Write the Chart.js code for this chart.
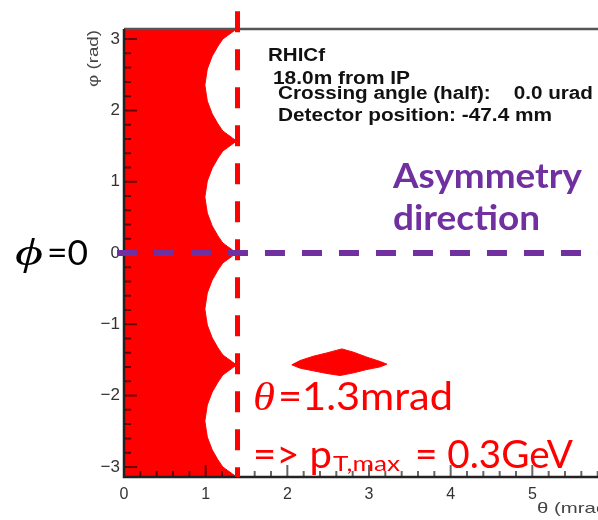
<!DOCTYPE html>
<html><head><meta charset="utf-8">
<script src="https://cdn.jsdelivr.net/npm/chart.js@4/dist/chart.umd.min.js"></script>
<style>html,body{margin:0;padding:0;background:#fff;overflow:hidden;width:598px;height:520px}canvas{display:block}</style>
</head><body><canvas id="c" width="640" height="520" style="width:640px;height:520px"></canvas>
<script>
// ---- data ----
const xTicks = [0, 1, 2, 3, 4, 5];
const xTickLabels = ['0', '1', '2', '3', '4', '5'];
const yTicks = [-3, -2, -1, 0, 1, 2, 3];
const yTickLabels = ['\u22123', '\u22122', '\u22121', '0', '1', '2', '3'];

// red acceptance region: outline (theta in mrad, phi in rad)
const regionTheta = [0,
  1.38, 1.33, 1.27, 1.21, 1.15, 1.08, 1.02, 0.99, 1.02, 1.08, 1.15, 1.21, 1.27, 1.33,
  1.38, 1.33, 1.27, 1.21, 1.15, 1.08, 1.02, 0.99, 1.02, 1.08, 1.15, 1.21, 1.27, 1.33,
  1.38, 1.33, 1.27, 1.21, 1.15, 1.08, 1.02, 0.99, 1.02, 1.08, 1.15, 1.21, 1.27, 1.33,
  1.38, 1.33, 1.27, 1.21, 1.15, 1.08, 1.02, 0.99, 1.02, 1.08, 1.15, 1.21, 1.27, 1.33,
  1.38, 0];
const regionPhi = [3.1416,
  3.1416, 3.101, 3.051, 3.001, 2.901, 2.761, 2.581, 2.356, 2.131, 1.951, 1.811, 1.711, 1.661, 1.611,
  1.571, 1.530, 1.480, 1.430, 1.330, 1.190, 1.010, 0.785, 0.560, 0.380, 0.240, 0.140, 0.090, 0.040,
  0.000, -0.040, -0.090, -0.140, -0.240, -0.380, -0.560, -0.785, -1.010, -1.190, -1.330, -1.430, -1.480, -1.530,
  -1.571, -1.611, -1.661, -1.711, -1.811, -1.951, -2.131, -2.356, -2.581, -2.761, -2.901, -3.001, -3.051, -3.101,
  -3.1416, -3.1416];

// small red island
const islandTheta = [2.055, 2.157, 2.320, 2.484, 2.668, 2.810, 2.974, 3.137, 3.219, 3.137, 2.974, 2.810, 2.647, 2.484, 2.320, 2.157, 2.055];
const islandPhi = [-1.569, -1.508, -1.447, -1.401, -1.345, -1.391, -1.461, -1.522, -1.559, -1.597, -1.634, -1.681, -1.718, -1.690, -1.653, -1.615, -1.569];

// dashed guide lines
const cutLineTheta = [1.39, 1.39];
const cutLinePhi = [3.39, -3.1416];
const asymLineTheta = [-0.086, 6.6];
const asymLinePhi = [0, 0];

const toPts = (xs, ys) => xs.map((v, i) => ({x: v, y: ys[i]}));

// ---- text helpers ----
function fitText(ctx, str, x, y, font, width, color, align) {
  ctx.save();
  ctx.font = font;
  ctx.fillStyle = color;
  ctx.textBaseline = 'alphabetic';
  ctx.textAlign = align || 'left';
  const w = ctx.measureText(str).width;
  const s = width ? width / w : 1;
  ctx.translate(x, y);
  ctx.scale(s, 1);
  ctx.fillText(str, 0, 0);
  ctx.restore();
}

const REGION_INDEX = 3;
const framePlugin = {
  id: 'frame',
  afterDatasetDraw(chart, args) {
    if (args.index !== REGION_INDEX) return;
    const {ctx, chartArea: a, scales: {x, y}} = chart;
    ctx.save();
    ctx.strokeStyle = 'rgba(0,0,0,0.6)';
    ctx.lineWidth = 2;
    ctx.beginPath();
    for (let i = -15; i <= 15; i++) {
      const v = i / 5;
      if (v < y.min || v > y.max) continue;
      const py = y.getPixelForValue(v);
      const len = (i % 5 === 0) ? 13 : 7;
      ctx.moveTo(a.left, py); ctx.lineTo(a.left + len, py);
    }
    for (let i = 1; i <= 30; i++) {
      const v = i / 5;
      if (v > x.max) continue;
      const px = x.getPixelForValue(v);
      const len = (i % 5 === 0) ? 12 : 6;
      ctx.moveTo(px, a.bottom); ctx.lineTo(px, a.bottom - len);
    }
    ctx.stroke();
    ctx.lineWidth = 2.5;
    ctx.strokeStyle = '#555';
    ctx.beginPath(); ctx.moveTo(a.left, a.top); ctx.lineTo(a.right + 30, a.top); ctx.stroke();
    ctx.strokeStyle = '#222';
    ctx.beginPath(); ctx.moveTo(a.left, a.top); ctx.lineTo(a.left, a.bottom); ctx.lineTo(a.right + 30, a.bottom); ctx.stroke();
    ctx.restore();
  },
  afterDraw(chart) {
    const ctx = chart.ctx;
    // axis titles
    ctx.save();
    ctx.translate(98, 30);
    ctx.rotate(-Math.PI / 2);
    fitText(ctx, '\u03C6 (rad)', 0, 0, '14px "Liberation Sans"', 57, '#444', 'right');
    ctx.restore();
    fitText(ctx, '\u03B8 (mrad)', 614, 513, '15px "Liberation Sans"', 77, '#444', 'right');
    // info box text
    const F = 'bold 18px "Liberation Sans"';
    fitText(ctx, 'RHICf', 268, 61, F, 57, '#111');
    fitText(ctx, '18.0m from IP', 273, 83.5, F, 137, '#111');
    fitText(ctx, 'Crossing angle (half):    0.0 urad', 278, 99, F, 315, '#111');
    fitText(ctx, 'Detector position: -47.4 mm', 278, 120.5, F, 274, '#111');
    // purple annotation
    const P = '#7030A0';
    fitText(ctx, 'Asymmetry', 393, 188, 'bold 35px Lato', 189, P);
    fitText(ctx, 'direction', 393, 230, 'bold 35px Lato', 147, P);
    // phi = 0
    fitText(ctx, '\u03D5', 15, 265, 'italic 38px "Liberation Serif"', 28, '#000');
    fitText(ctx, '=0', 47, 265, '35px Lato', 41, '#000');
    // red annotations
    const R = '#ff0000';
    fitText(ctx, '\u03B8', 253, 410, 'italic 39px "Liberation Serif"', 22, R);
    fitText(ctx, '=1.3mrad', 278, 410, '39px Lato', 175, R);
    fitText(ctx, '=> p', 253, 468, '39px Lato', 79, R);
    fitText(ctx, 'T,max', 333, 471, '21px Lato', 67, R);
    fitText(ctx, '= 0.3GeV', 415, 468, '39px Lato', 158, R);
  }
};

new Chart(document.getElementById('c'), {
  type: 'scatter',
  data: {
    datasets: [
      {data: toPts(asymLineTheta, asymLinePhi), showLine: true, borderColor: '#7030A0', borderWidth: 6,
       borderDash: [20, 17], pointRadius: 0, clip: false, fill: false},
      {data: toPts(cutLineTheta, cutLinePhi), showLine: true, borderColor: '#ff0000', borderWidth: 5,
       borderDash: [21, 17], pointRadius: 0, clip: false, fill: false},
      {data: toPts(islandTheta, islandPhi), showLine: true, borderColor: '#ff0000', borderWidth: 1,
       backgroundColor: '#ff0000', pointRadius: 0, fill: 'shape'},
      {data: toPts(regionTheta, regionPhi), showLine: true, borderColor: '#ff0000', borderWidth: 1,
       backgroundColor: '#ff0000', pointRadius: 0, fill: 'shape'}
    ]
  },
  options: {
    responsive: false,
    animation: false,
    events: [],
    layout: {padding: {left: 80, top: 29, right: 26, bottom: 0}},
    plugins: {legend: {display: false}, tooltip: {enabled: false}},
    scales: {
      x: {
        type: 'linear', min: 0, max: 6,
        grid: {display: false, drawTicks: false}, border: {display: false},
        afterBuildTicks: s => { s.ticks = xTicks.map(v => ({value: v})); },
        afterFit: s => { s.height = 43; },
        ticks: {autoSkip: false, maxRotation: 0, padding: 8, color: '#333',
          font: {family: '"Liberation Sans"', size: 16},
          callback: (v) => xTickLabels[xTicks.indexOf(v)]}
      },
      y: {
        type: 'linear', min: -Math.PI, max: Math.PI,
        grid: {display: false, drawTicks: false}, border: {display: false},
        afterBuildTicks: s => { s.ticks = yTicks.map(v => ({value: v})); },
        afterFit: s => { s.width = 44; },
        ticks: {autoSkip: false, padding: 4, color: '#333',
          font: {family: '"Liberation Sans"', size: 17},
          callback: (v) => yTickLabels[yTicks.indexOf(v)]}
      }
    }
  },
  plugins: [framePlugin]
});
</script></body></html>
